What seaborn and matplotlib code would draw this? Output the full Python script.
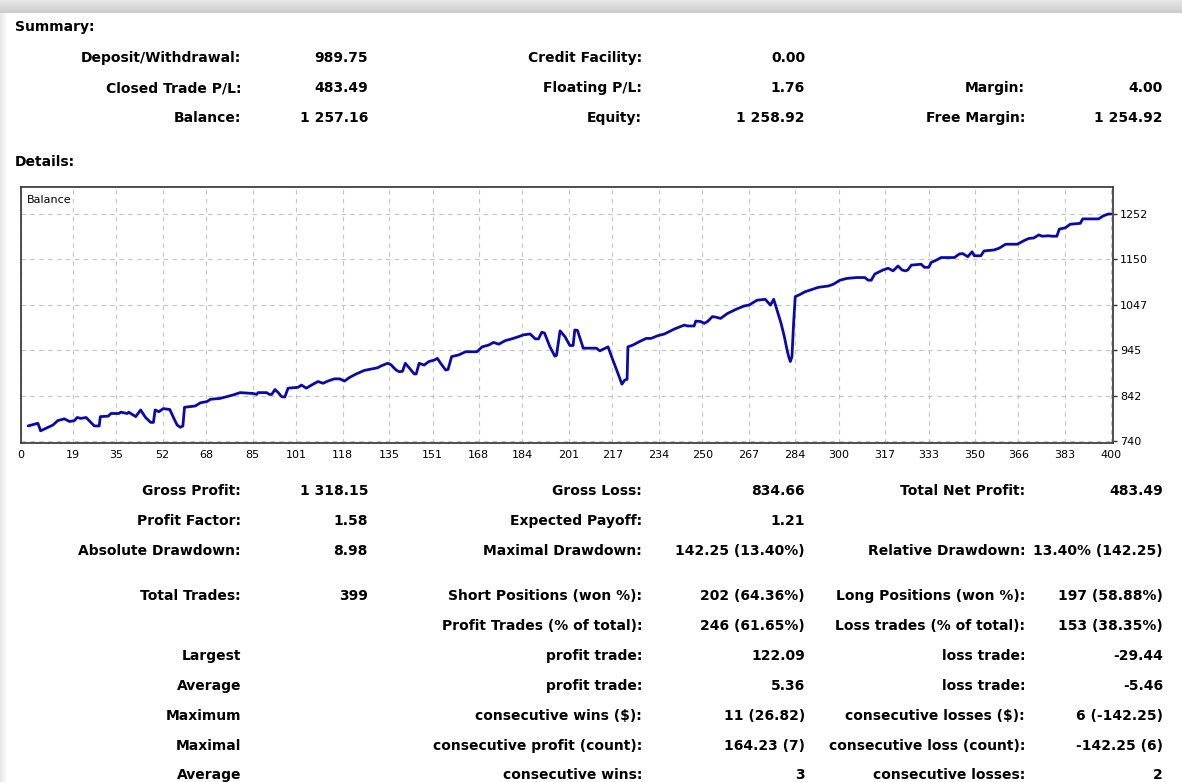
import numpy as np
import matplotlib
matplotlib.use("Agg")
from matplotlib import pyplot as plt
import seaborn as sns

# balance curve (trade number, balance)
trade_no = [2.6, 6.2, 7.2, 9.3, 11.7, 13.5, 15.9, 17.8, 19.6, 20.6,
            22, 23.9, 26.9, 28.7, 29.1, 32, 33, 36, 36.6, 39,
            39.5, 42.1, 43.9, 45.7, 47.6, 48.6, 49.2, 50.6, 52.2, 54.6,
            56.1, 57.3, 58.5, 59.4, 60, 64, 65.8, 68.3, 69.5, 73.1,
            75.6, 78, 80.4, 85.3, 86.5, 87, 90.1, 91.1, 92, 93.2,
            94.4, 95.6, 96.8, 98, 101.7, 102.9, 104.7, 106.6, 109, 110.8,
            112.6, 115, 116.9, 118.7, 120.5, 123, 126, 128.5, 130.9, 132.1,
            134.5, 135.7, 137.6, 138.8, 140, 141, 142, 144.3, 145, 146.1,
            147.9, 149.7, 151.5, 152.8, 154, 155.8, 156.7, 158, 160.7, 163.1,
            167.3, 169.2, 171.6, 173.4, 175.3, 177.7, 180.1, 182.6, 184.4, 186.8,
            188.7, 189.9, 191.1, 192.1, 194.1, 195.9, 196.5, 197.8, 199.6, 201.4,
            202.6, 203.2, 204.2, 206.3, 211.1, 212.4, 215.4, 217.2, 219, 220.5,
            221.5, 222.4, 222.7, 224.5, 227, 229.4, 231.2, 233.6, 236.1, 239.7,
            242.1, 243.4, 244.6, 247, 247.6, 249.4, 250.7, 251.9, 253.7, 254.9,
            256.7, 259.2, 262.2, 265.3, 267.1, 270.1, 273.1, 275, 276.2, 277.4,
            278.9, 280.1, 281.1, 281.7, 282.3, 282.9, 283.5, 284.1, 285.9, 287.7,
            290.2, 292.6, 296.3, 298.1, 300.5, 303, 306.6, 309.6, 310.9, 312,
            313.3, 316.3, 318.2, 320, 321.8, 323.3, 324.5, 325.4, 326.7, 330.3,
            331.5, 333.1, 334, 335.8, 337.6, 342.5, 344.3, 345.5, 347.4, 349,
            349.8, 352.2, 353.4, 357, 358.9, 361.3, 365.6, 368, 369.8, 371.6,
            373.5, 374.7, 377.1, 378.3, 380.1, 381, 383.2, 385, 386.9, 388.7,
            389.6, 395.4, 397.2, 399, 400]
balance = [775, 781, 764, 770, 777, 787, 791, 785, 787, 794,
           792, 794, 775, 775, 796, 797, 803, 803, 806, 803,
           806, 796, 811, 794, 783, 783, 811, 807, 814, 812,
           792, 777, 772, 775, 817, 820, 827, 830, 835, 837,
           841, 845, 850, 848, 846, 850, 850, 846, 846, 857,
           850, 841, 840, 860, 862, 867, 860, 867, 875, 871,
           876, 881, 881, 876, 884, 892, 900, 903, 906, 910,
           916, 913, 901, 897, 898, 916, 909, 892, 892, 916,
           912, 920, 923, 927, 916, 901, 902, 931, 935, 942,
           942, 953, 957, 963, 959, 967, 971, 976, 980, 982,
           971, 971, 986, 984, 953, 932, 934, 989, 976, 956,
           956, 991, 990, 950, 950, 944, 953, 923, 894, 869,
           878, 880, 953, 957, 965, 972, 972, 978, 982, 993,
           999, 1002, 1000, 1000, 1011, 1010, 1006, 1010, 1021, 1020,
           1017, 1028, 1037, 1045, 1047, 1058, 1060, 1047, 1060, 1036,
           1006, 976, 946, 931, 920, 931, 1006, 1066, 1071, 1077,
           1082, 1087, 1090, 1094, 1103, 1107, 1109, 1109, 1103, 1103,
           1117, 1126, 1130, 1124, 1135, 1126, 1124, 1126, 1137, 1139,
           1132, 1132, 1143, 1148, 1154, 1154, 1162, 1163, 1156, 1167,
           1158, 1158, 1169, 1171, 1175, 1184, 1184, 1192, 1197, 1198,
           1205, 1202, 1203, 1202, 1202, 1218, 1221, 1229, 1230, 1231,
           1241, 1241, 1248, 1252, 1252]

x_ticks = [0, 19, 35, 52, 68, 85, 101, 118, 135, 151, 168, 184, 201,
           217, 234, 250, 267, 284, 300, 317, 333, 350, 366, 383, 400]
y_ticks = [740, 842, 945, 1047, 1150, 1252]

# summary table: (label, value) per column
summary_rows = [
    [("Deposit/Withdrawal:", "989.75"), ("Credit Facility:", "0.00"), ("", "")],
    [("Closed Trade P/L:", "483.49"), ("Floating P/L:", "1.76"), ("Margin:", "4.00")],
    [("Balance:", "1 257.16"), ("Equity:", "1 258.92"), ("Free Margin:", "1 254.92")],
]
details_rows = [
    [("Gross Profit:", "1 318.15"), ("Gross Loss:", "834.66"), ("Total Net Profit:", "483.49")],
    [("Profit Factor:", "1.58"), ("Expected Payoff:", "1.21"), ("", "")],
    [("Absolute Drawdown:", "8.98"), ("Maximal Drawdown:", "142.25 (13.40%)"),
     ("Relative Drawdown:", "13.40% (142.25)")],
    [("Total Trades:", "399"), ("Short Positions (won %):", "202 (64.36%)"),
     ("Long Positions (won %):", "197 (58.88%)")],
    [("", ""), ("Profit Trades (% of total):", "246 (61.65%)"),
     ("Loss trades (% of total):", "153 (38.35%)")],
    [("Largest", ""), ("profit trade:", "122.09"), ("loss trade:", "-29.44")],
    [("Average", ""), ("profit trade:", "5.36"), ("loss trade:", "-5.46")],
    [("Maximum", ""), ("consecutive wins ($):", "11 (26.82)"),
     ("consecutive losses ($):", "6 (-142.25)")],
    [("Maximal", ""), ("consecutive profit (count):", "164.23 (7)"),
     ("consecutive loss (count):", "-142.25 (6)")],
    [("Average", ""), ("consecutive wins:", "3"), ("consecutive losses:", "2")],
]

W, H = 1182, 782
sns.set_style("white")
plt.rcParams['font.family'] = ['DejaVu Sans']
fig = plt.figure(figsize=(W / 100, H / 100), dpi=100)


def fx(px):
    return px / W


def fy(py):
    return 1 - py / H


# window shadow at top and left
sh = fig.add_axes([0, 0, 1, 1], zorder=-5)
grad_top = np.linspace(0.90, 0.80, 13)[:, None] * np.ones((1, 10))
sh.imshow(grad_top, cmap="gray", vmin=0, vmax=1, aspect="auto",
          extent=(0, W, H - 13, H))
grad_left = np.linspace(0.90, 1.0, 8)[None, :] * np.ones((10, 1))
sh.imshow(grad_left, cmap="gray", vmin=0, vmax=1, aspect="auto",
          extent=(0, 8, 0, H - 13))
sh.set_xlim(0, W)
sh.set_ylim(0, H)
sh.axis("off")

bold = dict(fontsize=10, fontweight="bold", color="#000000", va="center")
label_right = [241, 642, 1025]
value_right = [368, 805, 1163]

fig.text(fx(15), fy(27), "Summary:", ha="left", **bold)
for row, y in zip(summary_rows, [58, 88, 118]):
    for col, (lab, val) in enumerate(row):
        fig.text(fx(label_right[col]), fy(y), lab, ha="right", **bold)
        fig.text(fx(value_right[col]), fy(y), val, ha="right", **bold)

fig.text(fx(15), fy(162), "Details:", ha="left", **bold)
for row, y in zip(details_rows, [491, 521, 551, 596, 626, 656, 686, 716, 746, 775]):
    for col, (lab, val) in enumerate(row):
        fig.text(fx(label_right[col]), fy(y), lab, ha="right", **bold)
        fig.text(fx(value_right[col]), fy(y), val, ha="right", **bold)

# balance chart
ax = fig.add_axes([fx(21), fy(443), fx(1113 - 21), (443 - 187) / H])
sns.lineplot(x=trade_no, y=balance, ax=ax, color="#0a0aa8", linewidth=2.0,
             estimator=None, sort=False)
ax.set_xlim(0, 400.7)
ax.set_ylim(736.6, 1312.8)
ax.set_xticks(x_ticks)
ax.set_yticks(y_ticks)
ax.yaxis.tick_right()
ax.tick_params(axis="both", labelsize=8, colors="#333333", length=3, width=1,
               direction="out", pad=2)
ax.tick_params(axis="x", labelcolor="#000000")
ax.tick_params(axis="y", labelcolor="#000000")
ax.grid(True, color="#c4c4c4", linestyle=(0, (4, 4)), linewidth=0.8)
for sp in ax.spines.values():
    sp.set_color("#404040")
    sp.set_linewidth(1.3)
ax.set_xlabel("")
ax.set_ylabel("")
ax.text(0.005, 0.97, "Balance", transform=ax.transAxes, fontsize=8,
        ha="left", va="top", color="#000000")

fig.savefig("out.png", dpi=100)
